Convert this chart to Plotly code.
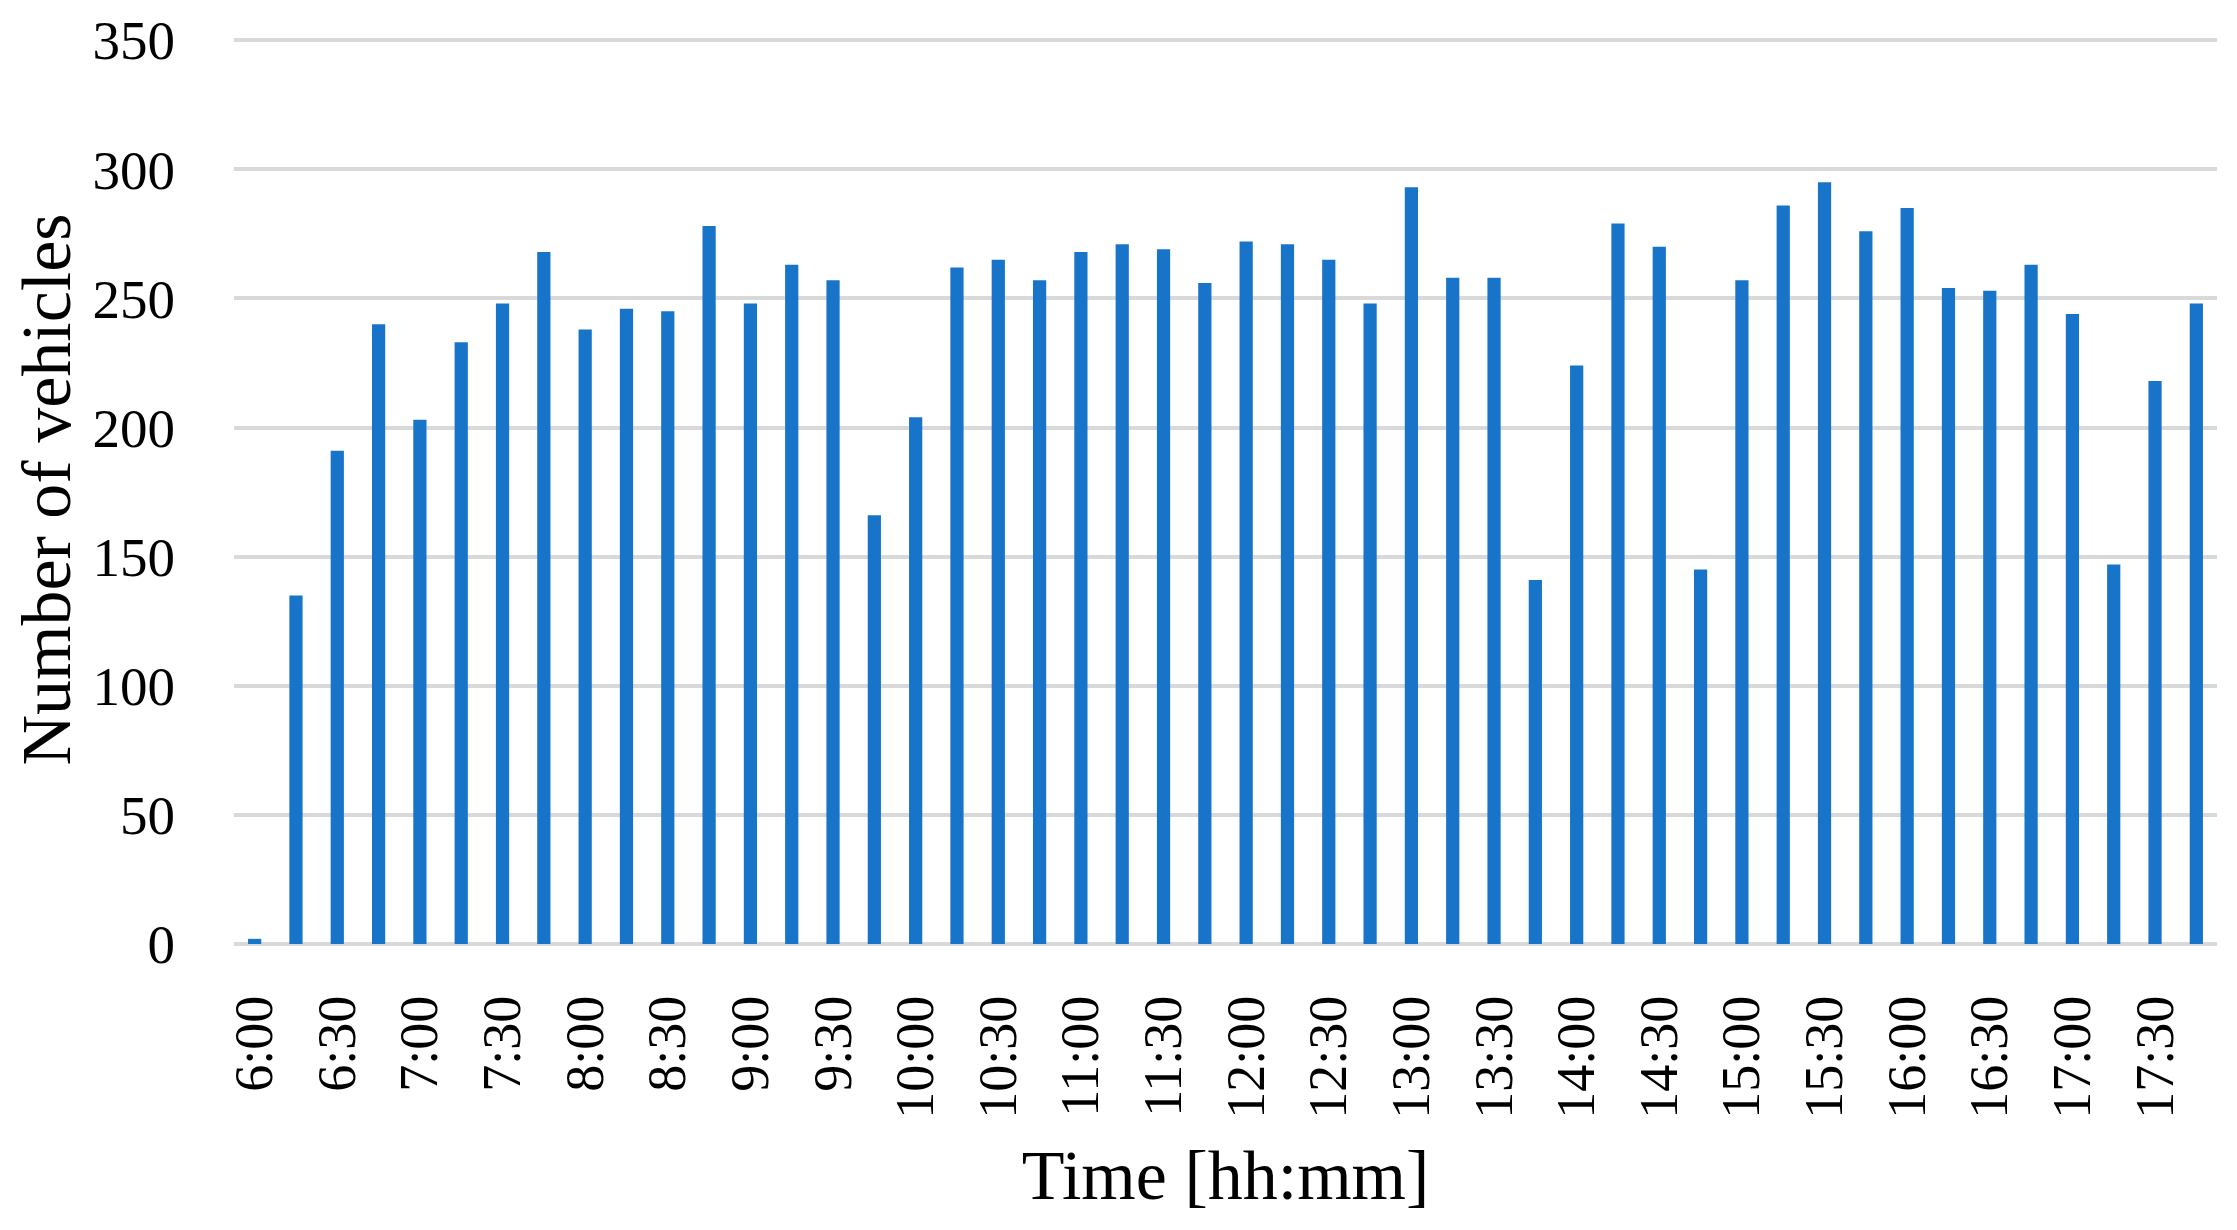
import plotly.graph_objs as go

# 15-minute intervals, 6:00 - 17:45
times = [
    "6:00", "6:15", "6:30", "6:45", "7:00", "7:15", "7:30", "7:45",
    "8:00", "8:15", "8:30", "8:45", "9:00", "9:15", "9:30", "9:45",
    "10:00", "10:15", "10:30", "10:45", "11:00", "11:15", "11:30", "11:45",
    "12:00", "12:15", "12:30", "12:45", "13:00", "13:15", "13:30", "13:45",
    "14:00", "14:15", "14:30", "14:45", "15:00", "15:15", "15:30", "15:45",
    "16:00", "16:15", "16:30", "16:45", "17:00", "17:15", "17:30", "17:45",
]
vehicles = [
    2, 135, 191, 240, 203, 233, 248, 268,
    238, 246, 245, 278, 248, 263, 257, 166,
    204, 262, 265, 257, 268, 271, 269, 256,
    272, 271, 265, 248, 293, 258, 258, 141,
    224, 279, 270, 145, 257, 286, 295, 276,
    285, 254, 253, 263, 244, 147, 218, 248,
]
tick_labels = times[::2]
y_ticks = [0, 50, 100, 150, 200, 250, 300, 350]

serif = "Liberation Serif"

fig = go.Figure()
fig.add_trace(go.Bar(
    x=times,
    y=vehicles,
    marker=dict(color="#1874C9", line=dict(width=0)),
    name="Number of vehicles",
))

# page body has an 8px margin, so the figure is a bit smaller than the window
fig.update_layout(
    width=2229,
    height=1222,
    plot_bgcolor="white",
    paper_bgcolor="white",
    bargap=0.68,
    showlegend=False,
    margin=dict(l=226, r=20, t=27, b=286),
    font=dict(family=serif, color="black"),
)

fig.update_xaxes(
    type="category",
    tickmode="array",
    tickvals=tick_labels,
    ticktext=tick_labels,
    tickangle=-90,
    tickfont=dict(family=serif, size=54, color="black"),
    ticklabelstandoff=40,
    showgrid=False,
    showline=False,
    ticks="",
    automargin=False,
    title=dict(text="Time [hh:mm]", font=dict(family=serif, size=70, color="black"), standoff=32),
)

fig.update_yaxes(
    range=[0, 352],
    tickvals=y_ticks,
    tickfont=dict(family=serif, size=55, color="black"),
    ticklabelstandoff=58,
    showgrid=True,
    gridcolor="#d9d9d9",
    gridwidth=4,
    zeroline=True,
    zerolinecolor="#d9d9d9",
    zerolinewidth=4,
    showline=False,
    ticks="",
    automargin=False,
    title=dict(text="Number of vehicles", font=dict(family=serif, size=70, color="black"), standoff=30),
)

fig.write_html("out.html")
